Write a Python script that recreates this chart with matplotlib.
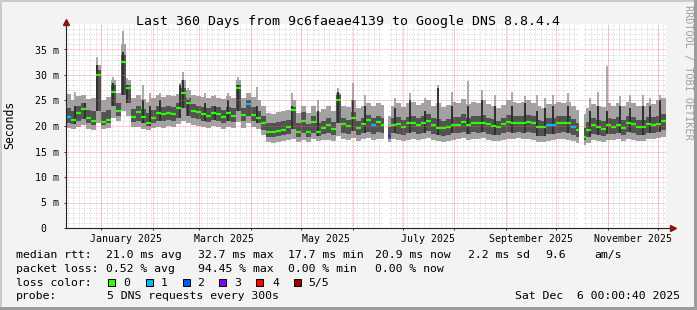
import numpy as np
import matplotlib
matplotlib.use('Agg')
import matplotlib.pyplot as plt
import pandas as pd
from matplotlib.patches import Rectangle

W, H, DPI = 697, 310, 100
plt.rcParams['font.family'] = ['DejaVu Sans Mono']

# ---------------- data ----------------
bin_days = 3.0  # each value covers 3 days, 120 bins = 360 days

median_ms = [21.8, 21.2, 22.5, 23.3, 21.5, 21.0, 30.0, 20.8, 21.2, 26.7,
             23.0, 32.5, 27.5, 21.8, 22.7, 21.8, 20.6, 21.5, 22.5, 22.3,
             22.6, 22.4, 23.5, 26.5, 24.5, 23.0, 22.8, 22.4, 22.0, 22.6,
             22.3, 21.8, 22.5, 22.0, 27.4, 22.2, 24.3, 22.2, 21.6, 20.5,
             18.8, 18.8, 19.0, 19.3, 19.8, 23.1, 18.9, 21.0, 18.8, 20.8,
             18.9, 19.6, 20.2, 19.4, 25.1, 20.4, 20.0, 21.5, 19.6, 20.3,
             21.2, 20.2, 20.8, 20.2, 18.0, 20.2, 20.3, 19.8, 20.6, 20.6,
             20.2, 20.6, 21.0, 20.2, 19.6, 19.6, 19.9, 20.2, 20.2, 20.8,
             20.2, 20.5, 20.6, 20.6, 20.3, 20.0, 19.8, 20.3, 20.8, 20.6,
             20.6, 20.6, 20.8, 20.6, 19.9, 19.8, 20.2, 20.2, 20.6, 20.6,
             20.6, 19.8, 19.2, 17.9, 19.3, 20.2, 19.8, 19.4, 20.2, 19.8,
             20.2, 19.6, 20.6, 20.3, 19.9, 19.8, 20.3, 20.2, 20.4, 21.0]

outer_lo = [19.6, 19.4, 19.8, 20.2, 19.5, 19.3, 20.5, 19.4, 19.6, 21.5,
            21.0, 23.0, 22.0, 19.8, 19.9, 19.4, 19.2, 19.6, 19.8, 19.7,
            20.0, 19.8, 20.3, 21.0, 20.5, 20.2, 20.0, 19.8, 19.6, 20.0,
            19.8, 19.5, 19.9, 19.6, 20.8, 19.7, 20.5, 19.8, 19.5, 18.2,
            16.8, 16.6, 16.9, 17.0, 17.2, 17.4, 16.8, 17.3, 16.9, 17.4,
            17.0, 17.2, 17.3, 17.1, 18.0, 17.4, 17.3, 17.6, 17.1, 17.4,
            17.6, 17.3, 17.5, 17.4, 16.8, 17.4, 17.2, 17.0, 17.3, 17.5,
            17.2, 17.4, 17.6, 17.3, 17.0, 16.8, 17.1, 17.3, 17.4, 17.6,
            17.3, 17.5, 17.4, 17.6, 17.2, 17.0, 17.1, 17.3, 17.5, 17.4,
            17.6, 17.4, 17.5, 17.3, 16.9, 16.8, 17.1, 17.2, 17.4, 17.5,
            17.3, 17.0, 16.6, 16.3, 16.7, 17.2, 17.0, 16.9, 17.3, 17.2,
            17.4, 17.0, 17.5, 17.3, 17.1, 17.0, 17.4, 17.5, 17.6, 17.8]

inner_lo = [20.5, 20.3, 20.9, 21.4, 20.6, 20.2, 23.0, 20.2, 20.5, 24.0,
            22.0, 26.0, 24.5, 20.8, 21.0, 20.6, 20.0, 20.6, 21.0, 21.0,
            21.2, 21.0, 21.6, 23.5, 22.0, 21.5, 21.3, 21.0, 20.8, 21.2,
            21.0, 20.6, 21.0, 20.8, 23.0, 20.9, 22.0, 21.0, 20.5, 19.2,
            17.9, 17.8, 18.0, 18.2, 18.5, 19.5, 17.9, 18.6, 17.9, 18.7,
            18.0, 18.4, 18.6, 18.3, 20.5, 18.6, 18.5, 19.0, 18.3, 18.7,
            18.9, 18.5, 18.8, 18.6, 17.4, 18.6, 18.5, 18.2, 18.6, 18.8,
            18.5, 18.7, 19.0, 18.5, 18.2, 18.0, 18.3, 18.6, 18.6, 18.9,
            18.5, 18.8, 18.7, 18.9, 18.5, 18.3, 18.2, 18.6, 18.9, 18.7,
            18.9, 18.7, 18.9, 18.6, 18.1, 18.0, 18.4, 18.5, 18.7, 18.8,
            18.6, 18.3, 17.8, 17.2, 17.8, 18.5, 18.3, 18.1, 18.5, 18.4,
            18.7, 18.2, 18.8, 18.6, 18.3, 18.2, 18.7, 18.7, 18.9, 19.2]

inner_hi = [23.5, 23.0, 24.0, 24.5, 23.2, 23.0, 31.0, 22.8, 23.2, 28.0,
            24.5, 34.0, 28.0, 23.3, 24.0, 23.4, 22.6, 23.2, 24.0, 23.8,
            24.0, 23.8, 24.6, 27.5, 25.5, 24.3, 24.0, 23.8, 23.5, 24.0,
            23.8, 23.2, 23.8, 23.5, 28.0, 23.6, 25.0, 23.8, 23.0, 22.0,
            20.6, 20.5, 20.8, 21.0, 21.2, 23.8, 20.5, 22.8, 20.4, 22.0,
            20.5, 21.0, 21.5, 20.8, 26.0, 21.5, 21.2, 22.8, 21.0, 21.6,
            22.2, 21.5, 22.0, 21.6, 19.8, 21.5, 21.7, 21.2, 21.8, 22.0,
            21.6, 22.0, 22.3, 21.5, 21.4, 21.0, 21.4, 21.8, 21.7, 22.3,
            21.6, 22.0, 22.0, 22.2, 21.6, 21.3, 21.0, 21.6, 22.2, 22.0,
            22.0, 21.9, 22.2, 22.0, 21.2, 21.0, 21.6, 21.6, 22.0, 22.0,
            22.0, 21.4, 20.6, 19.6, 20.8, 21.6, 21.2, 21.0, 21.6, 21.3,
            21.8, 21.2, 22.0, 21.8, 21.2, 21.2, 21.8, 21.7, 22.0, 22.4]

outer_hi = [26.2, 25.0, 25.8, 26.0, 25.2, 25.5, 32.0, 25.0, 25.6, 29.0,
            26.5, 36.0, 29.0, 25.5, 26.0, 25.2, 24.8, 25.5, 26.0, 25.6,
            26.0, 25.8, 26.3, 29.0, 27.0, 26.0, 25.8, 25.6, 25.4, 25.8,
            25.5, 25.2, 25.8, 25.4, 29.0, 25.5, 26.5, 25.6, 25.0, 24.0,
            22.6, 22.4, 22.8, 23.0, 23.2, 25.0, 22.5, 24.0, 22.5, 24.0,
            22.8, 23.3, 24.0, 23.0, 26.5, 24.0, 23.8, 25.0, 23.5, 24.0,
            24.5, 24.0, 24.6, 24.2, 22.0, 24.0, 24.5, 23.8, 24.5, 24.8,
            24.2, 24.6, 25.0, 24.0, 24.6, 23.8, 24.2, 24.8, 24.5, 25.2,
            24.4, 24.8, 24.6, 25.0, 24.3, 24.0, 23.6, 24.2, 25.0, 24.8,
            24.6, 24.8, 25.0, 24.6, 24.0, 23.6, 24.3, 24.3, 24.8, 24.6,
            24.8, 24.0, 23.2, 22.4, 23.6, 24.4, 24.0, 23.8, 24.6, 24.0,
            24.6, 24.0, 24.8, 24.6, 24.0, 24.0, 24.6, 24.4, 25.0, 25.4]

loss_level = [1, 0, 0, 0, 0, 0, 0, 0, 0, 0,
              0, 0, 0, 0, 0, 0, 0, 0, 0, 0,
              0, 0, 0, 0, 0, 0, 0, 0, 0, 0,
              0, 0, 0, 0, 0, 0, 1, 0, 0, 0,
              0, 0, 0, 0, 0, 0, 0, 0, 0, 0,
              0, 0, 0, 0, 0, 0, 0, 0, 0, 0,
              0, 1, 0, 0, 3, 0, 0, 0, 0, 0,
              0, 0, 0, 0, 0, 0, 0, 0, 0, 0,
              0, 0, 0, 0, 0, 0, 0, 0, 0, 0,
              0, 0, 0, 0, 0, 0, 1, 1, 0, 0,
              0, 1, 0, 0, 0, 0, 0, 0, 0, 0,
              0, 0, 0, 0, 0, 0, 0, 0, 0, 0]

# short outliers (day since start, top of grey smoke, top of dark smoke)
spike_day = [5.4, 11.4, 18.6, 28.2, 34.2, 36.6, 46.2, 50.4, 56.4, 68.4,
             70.2, 73.2, 83.4, 89.4, 97.2, 103.2, 114.6, 135.6, 151.2, 163.2,
             172.2, 179.4, 197.4, 206.4, 215.4, 223.2, 231.6, 241.2, 249.6, 257.4,
             267.6, 275.4, 282.6, 287.4, 292.2, 301.2, 314.4, 319.2, 324.6, 332.4,
             338.4, 346.2, 350.4, 356.4]
spike_gray_top = [26.7, 26.0, 33.5, 29.6, 38.6, 29.5, 28.0, 26.5, 26.5, 28.5,
                  30.6, 27.5, 26.4, 26.0, 26.5, 29.6, 27.6, 26.5, 25.0, 27.5,
                  28.5, 26.0, 25.5, 26.5, 25.5, 28.0, 26.7, 28.8, 27.0, 26.0,
                  26.7, 25.8, 26.0, 25.5, 26.0, 26.5, 25.5, 26.7, 31.8, 25.8,
                  26.0, 26.0, 25.5, 26.0]
spike_black_top = [24.0, 24.5, 32.0, 28.5, 34.5, 28.0, 25.0, 24.0, 25.0, 28.0,
                   29.0, 25.0, 24.5, 24.0, 25.0, 28.0, 24.0, 24.0, 23.0, 26.7,
                   25.0, 24.0, 23.5, 25.0, 23.0, 27.5, 24.0, 24.0, 25.0, 24.0,
                   24.0, 24.5, 23.0, 23.5, 24.0, 24.0, 23.0, 24.0, 23.0, 24.0,
                   23.5, 24.0, 24.0, 25.0]

# unknown-data gaps (days)
gap_start = [190.8, 308.0]
gap_end = [193.2, 310.6]

loss_colors = ['#26ff00', '#00b8ff', '#0059ff', '#7e00ff', '#ff0000', '#a10000']
loss_labels = ['0', '1', '2', '3', '4', '5/5']

title = 'Last 360 Days from 9c6faeae4139 to Google DNS 8.8.4.4'
start = pd.Timestamp('2024-12-11 00:00:40')
span_days = 360

# ---------------- figure ----------------
fig = plt.figure(figsize=(W / DPI, H / DPI), dpi=DPI)
fig.patch.set_facecolor('#f3f3f3')

def fx(px):
    return px / W

def fy(py):
    return 1 - py / H

ax = fig.add_axes([fx(66), fy(228), 600 / W, 204 / H])
ax.set_facecolor('white')
ax.set_xlim(0, span_days)
ax.set_ylim(0, 40)
for s in ax.spines.values():
    s.set_visible(False)

n = len(median_ms)
edges = np.arange(n + 1) * bin_days
olo = np.array(outer_lo); ohi = np.array(outer_hi)
ilo = np.array(inner_lo); ihi = np.array(inner_hi)
med = np.array(median_ms)

# minor grid
dot = (0, (1, 1.5))
for v in range(1, 40):
    if v % 5:
        ax.axhline(v, color='#d4d4d4', lw=0.72, ls=dot, zorder=1)
for d in np.arange(1.0, span_days, 3.34):
    ax.axvline(d, color='#d4d4d4', lw=0.72, ls=dot, zorder=1)

# smoke
ax.stairs(ohi, edges, baseline=olo, fill=True, color='#a2a2a2', lw=0, zorder=2)
ax.stairs(ihi, edges, baseline=ilo, fill=True, color='#525252', lw=0, zorder=2.1)

sd = np.array(spike_day)
idx = np.clip((sd // bin_days).astype(int), 0, n - 1)
ax.vlines(sd, ilo[idx], spike_gray_top, color='#a2a2a2', lw=1.3, zorder=2.2)
ax.vlines(sd, ilo[idx], spike_black_top, color='#111111', lw=1.1, zorder=2.3)

# median coloured by loss
cols = [loss_colors[k] for k in loss_level]
ax.hlines(med, edges[:-1], edges[1:], colors=cols, lw=1.6, zorder=3)

for a, b in zip(gap_start, gap_end):
    ax.axvspan(a, b, color='white', lw=0, zorder=3.5)

# major grid
month_starts = pd.date_range('2025-01-01', '2025-12-01', freq='MS')
ms_days = [(m - start) / pd.Timedelta(days=1) for m in month_starts]
ms_days = [d for d in ms_days if 0 < d < span_days]
for v in range(5, 40, 5):
    ax.axhline(v, color='#ff5f5f', alpha=0.6, lw=0.72, ls=(0, (1, 1)), zorder=4)
for d in ms_days:
    ax.axvline(d, color='#ff5f5f', alpha=0.6, lw=0.72, ls=(0, (1, 1)), zorder=4)

# ticks / labels
ax.set_xticks(ms_days)
ax.set_xticklabels([])
lab_months = [m for m in month_starts if m.month in (1, 3, 5, 7, 9, 11)]
lab_pos = [((m - start) / pd.Timedelta(days=1)) + 15 for m in lab_months]
ax.set_xticks(lab_pos, minor=True)
ax.set_xticklabels([m.strftime('%B %Y') for m in lab_months], minor=True)
ax.tick_params(axis='x', which='major', length=1.5, width=0.72, color='#333333')
ax.tick_params(axis='x', which='minor', length=0, pad=4.3, labelsize=7.1)

yt = list(range(0, 40, 5))
ax.set_yticks(yt)
ax.set_yticklabels(['0  ' if v == 0 else f'{v} m' for v in yt])
ax.tick_params(axis='y', length=1.5, width=0.72, color='#333333', pad=3.6, labelsize=7.1)

# axis lines with arrows
ax.plot([0, 1.012], [0, 0], transform=ax.transAxes, color='#222222', lw=0.8, clip_on=False, zorder=5)
ax.plot([0, 0], [0, 1.008], transform=ax.transAxes, color='#222222', lw=0.8, clip_on=False, zorder=5)
ax.plot([1.012], [0], transform=ax.transAxes, marker='>', ms=4.2, color='#8b1414', clip_on=False, zorder=6)
ax.plot([0], [1.012], transform=ax.transAxes, marker='^', ms=4.2, color='#8b1414', clip_on=False, zorder=6)

# frame
fig.add_artist(Rectangle((0, fy(2)), 1, 2 / H, transform=fig.transFigure, color='#cbcbcb', lw=0))
fig.add_artist(Rectangle((0, 0), fx(2), 1, transform=fig.transFigure, color='#cbcbcb', lw=0))
fig.add_artist(Rectangle((fx(W - 3), 0), 3 / W, 1, transform=fig.transFigure, color='#9c9c9c', lw=0))
fig.add_artist(Rectangle((0, 0), 1, 3 / H, transform=fig.transFigure, color='#9c9c9c', lw=0))

# texts
fig.text(fx(348), fy(25), title, ha='center', va='baseline', fontsize=9.5)
fig.text(fx(10), fy(125), 'Seconds', rotation=90, ha='center', va='center', fontsize=8.3)
fig.text(fx(688), fy(5), 'RRDTOOL / TOBI OETIKER', rotation=270, ha='center', va='top',
         fontsize=7.3, color='#a0a0a0')

fs = 8.25
def lt(px, py, s, **kw):
    fig.text(fx(px), fy(py), s, ha=kw.pop('ha', 'left'), va='baseline', fontsize=fs, **kw)

col_x = [16, 106.5, 197.5, 287.5, 375, 468.5, 545, 594]
line1 = ['median rtt:', '21.0 ms avg', '32.7 ms max', '17.7 ms min', '20.9 ms now',
         '2.2 ms sd', '9.6', 'am/s']
line2 = ['packet loss:', '0.52 % avg', '94.45 % max', '0.00 % min', '0.00 % now']
for x, s in zip(col_x, line1):
    lt(x, 258.3, s)
for x, s in zip(col_x, line2):
    lt(x, 271.7, s)

lt(16, 285.7, 'loss color:')
box_x = [108, 146, 183, 219, 256, 293.5]
lab_x = [123, 161, 197, 234, 272, 308]
for c, l, bx, tx in zip(loss_colors, loss_labels, box_x, lab_x):
    fig.add_artist(Rectangle((fx(bx), fy(286)), 7 / W, 7 / H, transform=fig.transFigure,
                             facecolor=c, edgecolor='black', lw=0.72))
    lt(tx, 285.7, l)

lt(16, 299.3, 'probe:')
lt(107, 299.3, '5 DNS requests every 300s')
lt(680, 299.3, 'Sat Dec  6 00:00:40 2025', ha='right')

fig.savefig('out.png', dpi=DPI, facecolor=fig.get_facecolor())
